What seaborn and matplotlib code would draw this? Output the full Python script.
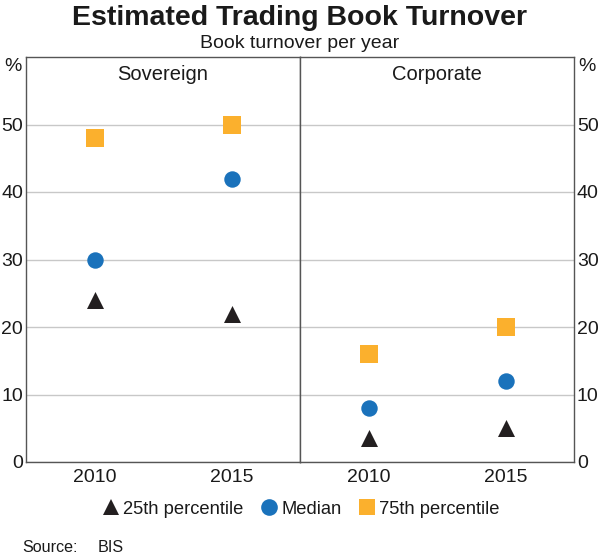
import matplotlib
matplotlib.use("Agg")
import matplotlib.pyplot as plt
from matplotlib.lines import Line2D
import seaborn as sns
import pandas as pd

# ---- data ----
years = ["2010", "2015"]
panels = ["Sovereign", "Corporate"]
series = ["25th percentile", "Median", "75th percentile"]
sov_p25 = [24, 22]
sov_median = [30, 42]
sov_p75 = [48, 50]
corp_p25 = [3.5, 5]
corp_median = [8, 12]
corp_p75 = [16, 20]
y_ticks = [0, 10, 20, 30, 40, 50]

colors = {"25th percentile": "#231f20", "Median": "#1a72bb", "75th percentile": "#fbb02d"}
markers = {"25th percentile": "^", "Median": "o", "75th percentile": "s"}
sizes = {"25th percentile": 150, "Median": 140, "75th percentile": 150}

sns.set_theme(style="white")
plt.rcParams["font.family"] = ["Liberation Sans", "DejaVu Sans"]

fig = plt.figure(figsize=(6, 5.54), dpi=100)
W, H = 600, 554
left, mid, right = 26, 300, 574
top, bottom = 57, 462
ax1 = fig.add_axes([left / W, 1 - bottom / H, (mid - left) / W, (bottom - top) / H])
ax2 = fig.add_axes([mid / W, 1 - bottom / H, (right - mid) / W, (bottom - top) / H], sharey=ax1)

data = {
    "Sovereign": [sov_p25, sov_median, sov_p75],
    "Corporate": [corp_p25, corp_median, corp_p75],
}

TXT = "#1a1a1a"
TICK_FS = 14
spine_col = "#555555"
for ax, panel in zip([ax1, ax2], panels):
    rows = []
    for s, vals in zip(series, data[panel]):
        for y, v in zip(years, vals):
            rows.append({"year": y, "value": v, "stat": s})
    df = pd.DataFrame(rows)
    for s in series:
        sub = df[df["stat"] == s]
        sns.scatterplot(data=sub, x="year", y="value", color=colors[s], marker=markers[s],
                        s=sizes[s], linewidth=0, legend=False, ax=ax, zorder=3)
    ax.set_xlim(-0.5, 1.5)
    ax.set_ylim(0, 60)
    ax.set_xlabel("")
    ax.set_ylabel("")
    ax.set_xticks([0, 1])
    ax.set_xticklabels(years)
    ax.set_xticks([0.5], minor=True)
    ax.tick_params(axis="x", which="major", length=0, pad=5, labelsize=TICK_FS, colors=TXT)
    ax.tick_params(axis="x", which="minor", direction="in", length=5, width=1, color=spine_col)
    ax.set_yticks(y_ticks)
    ax.yaxis.grid(True, color="#c8c8c8", linewidth=1)
    ax.set_axisbelow(True)
    for sp in ax.spines.values():
        sp.set_visible(True)
        sp.set_color(spine_col)
        sp.set_linewidth(1)
    ax.text(0.5, 0.958, panel, transform=ax.transAxes, ha="center", va="center",
            fontsize=14.5, color=TXT)

ax1.tick_params(axis="y", length=0, pad=2, labelsize=TICK_FS, colors=TXT)
ax2.tick_params(axis="y", length=0, pad=2, labelsize=TICK_FS, colors=TXT,
                labelleft=False, labelright=True, left=False, right=True)

ax1.annotate("%", xy=(0, 60), xycoords=("axes fraction", "data"), xytext=(-3, -1),
             textcoords="offset points", ha="right", va="top", fontsize=TICK_FS, color=TXT)
ax2.annotate("%", xy=(1, 60), xycoords=("axes fraction", "data"), xytext=(3, -1),
             textcoords="offset points", ha="left", va="top", fontsize=TICK_FS, color=TXT)

fig.text(0.5, 1 - 18 / H, "Estimated Trading Book Turnover", ha="center", va="center",
         fontsize=20.5, fontweight="bold", color=TXT)
fig.text(0.5, 1 - 43 / H, "Book turnover per year", ha="center", va="center",
         fontsize=14, color=TXT)

handles = [Line2D([], [], linestyle="none", marker=markers[s], color=colors[s],
                  markersize=12, markeredgewidth=0) for s in series]
fig.legend(handles, series, loc="center", bbox_to_anchor=(0.5, 1 - 509 / H), ncol=3,
           frameon=False, fontsize=13.2, handletextpad=0.05, columnspacing=0.8,
           handlelength=1.2, labelcolor=TXT)

fig.text(22 / W, 1 - 548 / H, "Source:", ha="left", va="center", fontsize=11.6, color=TXT)
fig.text(98 / W, 1 - 548 / H, "BIS", ha="left", va="center", fontsize=11.6, color=TXT)

fig.savefig("out.png", dpi=100)
